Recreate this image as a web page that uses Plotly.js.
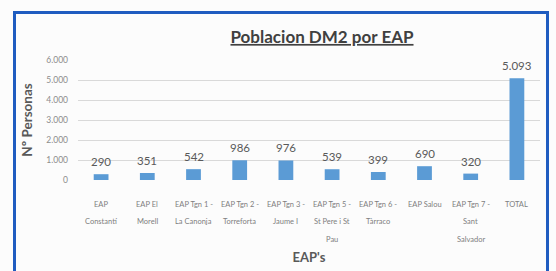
<!DOCTYPE html>
<html>
<head>
<meta charset="utf-8">
<script src="https://cdn.plot.ly/plotly-3.0.1.min.js"></script>
<style>
  html, body { margin: 0; padding: 0; background: #ffffff; }
  #wrap { position: relative; width: 556px; height: 271px; overflow: hidden; background: #ffffff; }
  #chart { position: absolute; left: 0; top: 0; width: 556px; height: 271px; }
  #frame { position: absolute; left: 13px; top: 11px; width: 530px; height: 300px;
           border: 3px solid #1f5cc0; pointer-events: none; box-sizing: content-box; }
</style>
</head>
<body>
<div id="wrap">
  <div id="chart"></div>
  <div id="frame"></div>
</div>
<script>
// ---- data ----
const categories = [
  'EAP<br>Constantí',
  'EAP El<br>Morell',
  'EAP Tgn 1 -<br>La Canonja',
  'EAP Tgn 2 -<br>Torreforta',
  'EAP Tgn 3 -<br>Jaume I',
  'EAP Tgn 5 -<br>St Pere i St<br>Pau',
  'EAP Tgn 6 -<br>Tàrraco',
  'EAP Salou',
  'EAP Tgn 7 -<br>Sant<br>Salvador',
  'TOTAL'
];
const values = [290, 351, 542, 986, 976, 539, 399, 690, 320, 5093];
const yTickVals = [0, 1000, 2000, 3000, 4000, 5000, 6000];
const chartTitle = 'Poblacion DM2 por EAP';
const yTitle = 'Nº Personas';
const xTitle = "EAP's";

// ---- styles ----
const FONT = 'Lato, "Open Sans", sans-serif';
const GREY = '#7f7f7f';
const DARK = '#595959';

function fmt(v) {
  return String(v).replace(/\B(?=(\d{3})+(?!\d))/g, '.');
}

const annotations = [];
// data labels
categories.forEach((c, i) => {
  annotations.push({
    x: c, y: values[i], xref: 'x', yref: 'y',
    text: fmt(values[i]),
    showarrow: false, yanchor: 'bottom', yshift: 4,
    font: {family: FONT, size: 11.5, color: DARK}
  });
});
// category labels, one annotation per line
categories.forEach((c) => {
  c.split('<br>').forEach((line, j) => {
    annotations.push({
      x: c, y: 0, xref: 'x', yref: 'paper',
      text: line, showarrow: false, yanchor: 'middle',
      yshift: -24 - j * 17.5,
      font: {family: FONT, size: 7.5, color: GREY}
    });
  });
});

const trace = {
  type: 'bar',
  x: categories,
  y: values,
  marker: {color: '#5b9bd5'},
  hoverinfo: 'none'
};

const layout = {
  width: 556, height: 271,
  margin: {l: 78, r: 16, t: 60, b: 91},
  paper_bgcolor: '#fcfcfc',
  plot_bgcolor: '#fcfcfc',
  separators: ',.',
  bargap: 0.68,
  showlegend: false,
  font: {family: FONT, color: GREY},
  title: {
    text: '<u>' + chartTitle + '</u>',
    font: {family: FONT, size: 17, color: '#404040', weight: 'bold'},
    x: 322 / 556, xanchor: 'center', xref: 'container',
    y: 1 - 37 / 271, yanchor: 'middle', yref: 'container'
  },
  xaxis: {
    type: 'category',
    showticklabels: false,
    showgrid: false,
    zeroline: false,
    showline: false,
    ticks: '',
    fixedrange: true,
    title: {text: xTitle, standoff: 72, font: {family: FONT, size: 13, color: DARK, weight: 'bold'}}
  },
  yaxis: {
    range: [0, 6000],
    tickvals: yTickVals,
    tickformat: ',d',
    showgrid: true,
    gridcolor: '#d9d9d9',
    gridwidth: 1,
    zeroline: false,
    showline: false,
    ticks: '',
    ticklabelstandoff: 9,
    tickfont: {family: FONT, size: 8.5, color: '#8c8c8c'},
    fixedrange: true,
    title: {text: yTitle, standoff: 10, font: {family: FONT, size: 13.5, color: DARK, weight: 'bold'}}
  },
  annotations: annotations
};

Plotly.newPlot('chart', [trace], layout, {displayModeBar: false, staticPlot: true});
</script>
</body>
</html>
